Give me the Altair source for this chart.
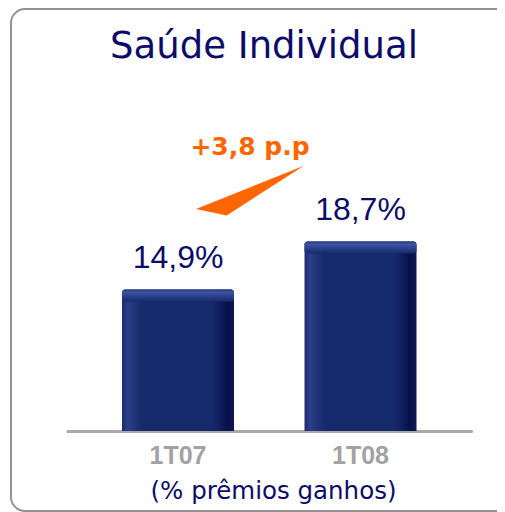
import altair as alt
import pandas as pd

# ---- data ----
periods = ["1T07", "1T08"]
share = [14.9, 18.7]                 # % prêmios ganhos
value_labels = ["14,9%", "18,7%"]
axis_min = 3.7                       # value at the bar baseline
axis_max = 37.11                     # value at the top of the frame
chart_title = "Saúde Individual"
axis_title = "(% prêmios ganhos)"

diff = round(share[1] - share[0], 1)
diff_label = ("+" + f"{diff:.1f}" + " p.p").replace(".", ",", 1)

df = pd.DataFrame({"period": periods, "share": share, "label": value_labels})
ann = pd.DataFrame({"period": [periods[0]], "anchor": [share[1]], "text": [diff_label]})

NAVY = "#0c0c68"
ORANGE = "#ff6600"

VIEW_W = 503
VIEW_H = 502

x_enc = alt.X(
    "period:N",
    sort=periods,
    scale=alt.Scale(range=[55.25, 461.25], paddingInner=0.3863, paddingOuter=0.3055),
    axis=alt.Axis(
        orient="bottom", offset=-(VIEW_H - 422), labelAngle=0, ticks=False, tickSize=0,
        domainColor="#a9a9a9", domainWidth=3, grid=False,
        labelFont="Liberation Sans", labelFontSize=25, labelFontWeight="bold",
        labelColor="#a2a2a2", labelBaseline="alphabetic", labelPadding=32,
        title=axis_title, titleFont="DejaVu Sans", titleFontSize=24.5,
        titleFontWeight="normal", titleColor=NAVY, titleBaseline="alphabetic",
        titleY=67, titleX=262,
    ),
)
y_scale = alt.Scale(domain=[axis_min, axis_max], range=[422, 0], nice=False, zero=False)
y_enc = alt.Y("share:Q", scale=y_scale, axis=None)

side_grad = alt.LinearGradient(
    gradient="linear", x1=0, x2=1, y1=0, y2=0,
    stops=[
        alt.GradientStop(offset=0.0, color="#1b2c6e"),
        alt.GradientStop(offset=0.05, color="#2b3f88"),
        alt.GradientStop(offset=0.11, color="#21347a"),
        alt.GradientStop(offset=0.18, color="#16296b"),
        alt.GradientStop(offset=0.80, color="#16296b"),
        alt.GradientStop(offset=0.88, color="#0f1d5c"),
        alt.GradientStop(offset=0.94, color="#07104a"),
        alt.GradientStop(offset=1.0, color="#0d1953"),
    ],
)
top_grad = alt.LinearGradient(
    gradient="linear", x1=0, x2=0, y1=0, y2=1,
    stops=[
        alt.GradientStop(offset=0.0, color="#22347a"),
        alt.GradientStop(offset=0.2, color="#3d55a2"),
        alt.GradientStop(offset=0.55, color="#2c418c"),
        alt.GradientStop(offset=1.0, color="#16296b"),
    ],
)

base = alt.Chart(df)

bars = base.mark_bar(
    color=side_grad, cornerRadiusTopLeft=3, cornerRadiusTopRight=3
).encode(x=x_enc, y=y_enc, y2=alt.datum(axis_min))

bevel = base.mark_tick(
    color=top_grad, thickness=12, size=112, yOffset=6, opacity=1,
    cornerRadius=3,
).encode(x=x_enc, y=y_enc)

labels = base.mark_text(
    font="Liberation Sans", fontSize=32, color=NAVY, baseline="alphabetic",
    align="center", dy=-22,
).encode(x=x_enc, y=y_enc, text="label:N")

ann_text = alt.Chart(ann).mark_text(
    font="DejaVu Sans", fontSize=25, fontWeight="bold", color=ORANGE,
    baseline="alphabetic", align="center", dx=72, dy=-87,
).encode(x=alt.X("period:N"), y=alt.Y("anchor:Q"), text="text:N")

wedge = alt.Chart(ann).mark_point(
    shape="M -1 0.34 L -0.43 0.46 L 1 -0.46 Z", size=11664, filled=True,
    color=ORANGE, opacity=1, strokeWidth=0, xOffset=72, yOffset=-51,
).encode(x=alt.X("period:N"), y=alt.Y("anchor:Q"))

chart = alt.layer(bars, bevel, labels, wedge, ann_text).properties(
    width=VIEW_W,
    height=VIEW_H,
    autosize=alt.AutoSizeParams(type="none"),
    padding={"left": 3, "top": 1, "right": 489 - 3 - VIEW_W, "bottom": 1},
    view=alt.ViewBackground(stroke="#929292", strokeWidth=2, cornerRadius=14, fill="white"),
    title=alt.TitleParams(
        chart_title, font="DejaVu Sans", fontSize=37, fontWeight="normal",
        color=NAVY, anchor="middle", orient="top", offset=-86, dx=1.5,
        baseline="alphabetic",
    ),
).configure_view(
    stroke="#929292", strokeWidth=2, cornerRadius=14, fill="white"
).configure(background="white")

chart.save("out.html", embed_options={"renderer": "svg", "actions": False})
